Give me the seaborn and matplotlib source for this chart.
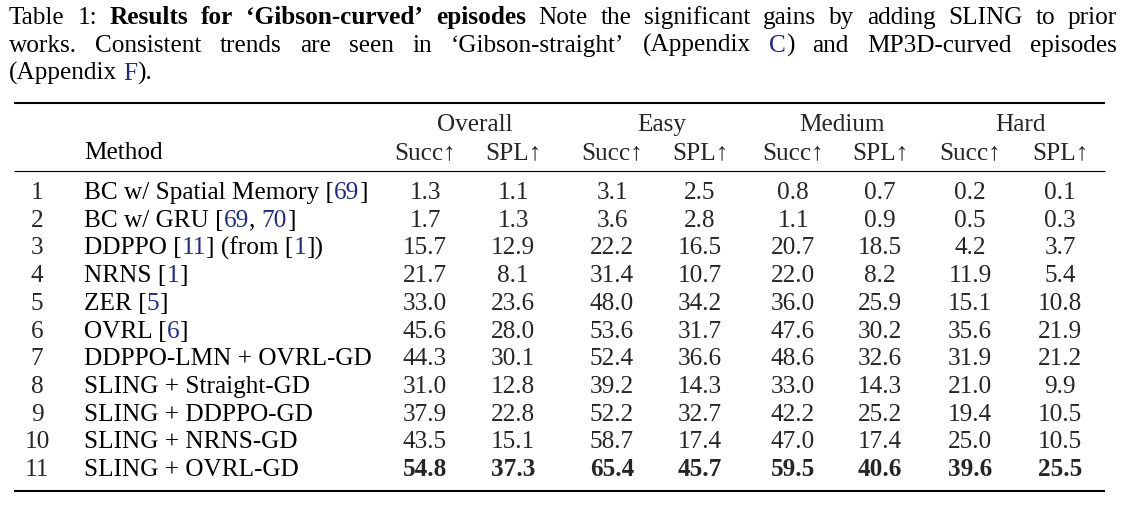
import re
import matplotlib
matplotlib.use("Agg")
import matplotlib.pyplot as plt
import seaborn as sns

# table content
row_ids = [str(i) for i in range(1, 12)]
methods = ["BC w/ Spatial Memory [{69}]", "BC w/ GRU [{69}, {70}]",
           "DDPPO [{11}] (from [{1}])", "NRNS [{1}]", "ZER [{5}]", "OVRL [{6}]",
           "DDPPO-LMN + OVRL-GD", "SLING + Straight-GD", "SLING + DDPPO-GD",
           "SLING + NRNS-GD", "SLING + OVRL-GD"]
overall_succ = [1.3, 1.7, 15.7, 21.7, 33.0, 45.6, 44.3, 31.0, 37.9, 43.5, 54.8]
overall_spl = [1.1, 1.3, 12.9, 8.1, 23.6, 28.0, 30.1, 12.8, 22.8, 15.1, 37.3]
easy_succ = [3.1, 3.6, 22.2, 31.4, 48.0, 53.6, 52.4, 39.2, 52.2, 58.7, 65.4]
easy_spl = [2.5, 2.8, 16.5, 10.7, 34.2, 31.7, 36.6, 14.3, 32.7, 17.4, 45.7]
medium_succ = [0.8, 1.1, 20.7, 22.0, 36.0, 47.6, 48.6, 33.0, 42.2, 47.0, 59.5]
medium_spl = [0.7, 0.9, 18.5, 8.2, 25.9, 30.2, 32.6, 14.3, 25.2, 17.4, 40.6]
hard_succ = [0.2, 0.5, 4.2, 11.9, 15.1, 35.6, 31.9, 21.0, 19.4, 25.0, 39.6]
hard_spl = [0.1, 0.3, 3.7, 5.4, 10.8, 21.9, 21.2, 9.9, 10.5, 10.5, 25.5]
groups = ["Overall", "Easy", "Medium", "Hard"]
metrics = ["Succ↑", "SPL↑"]

# caption: ^word = bold, {x} = link colour
caption_lines = [
    "Table 1: ^Results ^for ^‘Gibson-curved’ ^episodes Note the significant gains by adding SLING to prior",
    "works. Consistent trends are seen in ‘Gibson-straight’ (Appendix {C}) and MP3D-curved episodes",
    "(Appendix {F}).",
]

W, H = 1122, 508
FS = 18.2
LINK = "#1c2a8c"
FAMILY = ["Liberation Serif", "DejaVu Serif"]

sns.set_theme(style="white")
plt.rcParams["font.family"] = FAMILY

fig = plt.figure(figsize=(W / 100, H / 100), dpi=100)
ax = fig.add_axes([0, 0, 1, 1])
ax.set_xlim(0, W)
ax.set_ylim(H, 0)
ax.axis("off")
renderer = fig.canvas.get_renderer()
probe = ax.text(0, 0, "", fontsize=FS)


def measure(s, weight="normal"):
    probe.set_text(s)
    probe.set_weight(weight)
    return probe.get_window_extent(renderer).width


def chunk_text(s, x, y, weight="normal"):
    # draw s starting at x; {..} parts in link colour, right-aligned on the full-string extent
    parts = [p for p in re.split(r"(\{[^}]*\})", s) if p]
    plain = ""
    for p in parts:
        colour = "black"
        if p.startswith("{"):
            p, colour = p[1:-1], LINK
        plain += p
        ax.text(x + measure(plain, weight), y, p, fontsize=FS, color=colour,
                weight=weight, ha="right", va="baseline")
    return measure(plain, weight)


def draw_line(line, y, x0, x1=None):
    words = []
    for w in line.split():
        wt = "normal"
        if w.startswith("^"):
            w, wt = w[1:], "bold"
        words.append((w, wt))
    widths = [measure(re.sub(r"[{}]", "", w), wt) for w, wt in words]
    gap = measure("n n") - measure("nn")
    if x1 is not None and len(words) > 1:
        gap = (x1 - x0 - sum(widths)) / (len(words) - 1)
    x = x0
    for (w, wt), ww in zip(words, widths):
        chunk_text(w, x, y, wt)
        x += ww + gap


# caption
cap_y = [24, 52, 80]
for i, line in enumerate(caption_lines):
    x1 = 1117 if i < len(caption_lines) - 1 else None
    draw_line(line, cap_y[i], 9, x1)

# rules
rule_x0, rule_x1 = 14, 1105
ax.hlines(103, rule_x0, rule_x1, color="black", lw=1.5)
ax.hlines(171, rule_x0, rule_x1, color="black", lw=0.8)
ax.hlines(491, rule_x0, rule_x1, color="black", lw=1.5)

# headers
num_x, method_x = 37, 84
succ_x = [425, 612, 793, 970]
spl_x = [513, 700, 880, 1060]
head1_y, head2_y = 131, 159
chunk_text("Method", method_x, head2_y)
for g, sx, px in zip(groups, succ_x, spl_x):
    ax.text((sx + px) / 2 + 6, head1_y, g, fontsize=FS, ha="center", va="baseline")
    ax.text(sx, head2_y, metrics[0], fontsize=FS, ha="center", va="baseline")
    ax.text(px, head2_y, metrics[1], fontsize=FS, ha="center", va="baseline")

# body
columns = [overall_succ, overall_spl, easy_succ, easy_spl,
           medium_succ, medium_spl, hard_succ, hard_spl]
col_x = [c for pair in zip(succ_x, spl_x) for c in pair]
row0, step = 199, 27.7
for r, (rid, m) in enumerate(zip(row_ids, methods)):
    y = row0 + r * step
    ax.text(num_x, y, rid, fontsize=FS, ha="center", va="baseline")
    chunk_text(m, method_x, y)
    for col, cx in zip(columns, col_x):
        v = col[r]
        best = v == max(col)
        ax.text(cx, y, f"{v:.1f}", fontsize=FS, ha="center", va="baseline",
                weight="bold" if best else "normal")

probe.remove()
fig.savefig("out.png", dpi=100, facecolor="white")
